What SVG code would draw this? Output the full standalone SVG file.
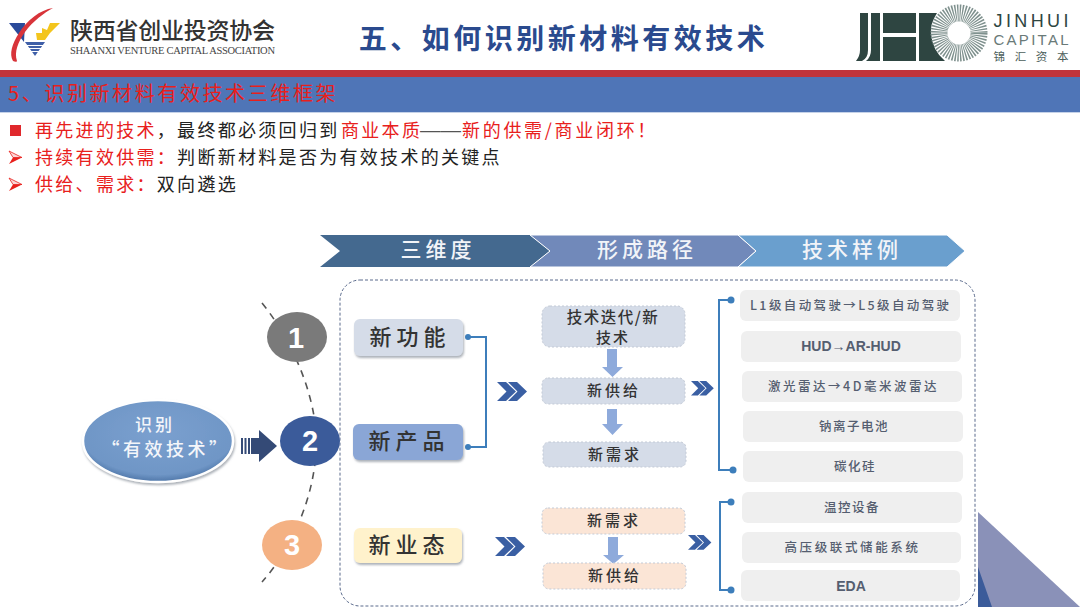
<svg xmlns="http://www.w3.org/2000/svg" width="1080" height="607" viewBox="0 0 1080 607">
<style>
text{font-family:"Noto Sans CJK SC","Noto Sans",sans-serif;text-anchor:middle}
.bl{font-size:18px;letter-spacing:2.300px;text-anchor:start;fill:#222}
.r{fill:#e8201c}
.hd{font-size:21px;font-weight:500;fill:#f2f4f8;letter-spacing:4px}
.big{font-size:22px;font-weight:500;letter-spacing:5px;fill:#333}
.mid{font-size:15px;font-weight:500;letter-spacing:3px;fill:#333}
.ex{font-size:12.5px;font-weight:500;letter-spacing:1.5px;fill:#555e70}
.exb{font-family:"Liberation Sans",Arial,sans-serif;font-size:14px;font-weight:700;fill:#555e70}
.num{font-family:"Liberation Sans",Arial,sans-serif;font-size:29px;font-weight:700;fill:#fff}
.m{stroke:#c3cad6;stroke-width:1;stroke-dasharray:2 2}
.e{fill:#efefef}
.conn{fill:none;stroke:#3d7ebb;stroke-width:2}
.dot{fill:#3d7ebb}
.dc{fill:#3a5fa3}
.da{fill:#8eaadb}
.bu{fill:#fbd5d5;stroke:#e8201c;stroke-width:.8}
.bd{fill:#e8201c}
</style>
<defs>
<filter id="sh" x="-10%" y="-20%" width="125%" height="150%"><feDropShadow dx="1" dy="2" stdDeviation="1.2" flood-color="#6b7280" flood-opacity=".55"/></filter>
<radialGradient id="eg" cx="50%" cy="40%" r="60%"><stop offset="0" stop-color="#7ba0cf"/><stop offset=".85" stop-color="#6f96c6"/><stop offset="1" stop-color="#4f76a8"/></radialGradient>
<g id="dch"><path d="M0 0H9L19 9.500 9 19H0L9.500 9.500Z"/><path d="M11 0H20L30 9.500 20 19H11L20.500 9.500Z"/></g>
<g id="abul"><path class="bu" d="M0 0 13 6.500H4Z"/><path class="bd" d="M0 13 13 6.500H4Z"/></g>
</defs>
<rect width="1080" height="607" fill="#fff"/>

<g id="logo-left">
<path d="M9 23H25L24 42Z" fill="#2a4a9a"/>
<path d="M25 42H45L35 56Z" fill="#3f5fa8"/>
<path d="M27 45.500H43M29 48.500H41M31 51.500H39" stroke="#fff" stroke-width="1" fill="none"/>
<path d="M36 33 37 40H45L50 33 60 23H50L47 30 42 28V33Z" fill="#f3c51d"/>
<path d="M53 8C40 10 27 20 19 33 12 44 9 54 13 61 15 62 17 62 17 61 14 52 18 42 25 32 33 21 44 13 53 8Z" fill="#d8343a"/>
<text x="172.500" y="39" style="font-size:23px;font-weight:500;fill:#333" textLength="205">陕西省创业投资协会</text>
<text x="172.500" y="54" style="font-family:'Liberation Serif',serif;font-size:10.500px;fill:#444" textLength="205">SHAANXI VENTURE CAPITAL ASSOCIATION</text>
</g>
<text id="title" x="563.500" y="49" style="font-size:28px;font-weight:700;letter-spacing:3.500px;fill:#2a4a8e">五、如何识别新材料有效技术</text>
<g id="logo-right">
<path d="M856 13H868V50Q868 58 862 61H856Q860 56 860 50V13ZM871 13H880V61H866Q871 57 871 50Z" fill="#2e4541"/>
<rect x="883" y="13" width="33" height="20" fill="#2e4541"/>
<rect x="883" y="37" width="33" height="24" fill="#2e4541"/>
<path d="M919 13H937Q930 24 931 33 932 50 945 61H919Z" fill="#2e4541"/>
<circle cx="959" cy="33" r="20" fill="none" stroke="#7f918e" stroke-width="17" stroke-dasharray="1.200 1.044"/>
<text x="1031" y="27" style="font-family:'Liberation Sans',sans-serif;font-size:18px;fill:#2e4541" textLength="75">JINHUI</text>
<text x="1031" y="44.500" style="font-family:'Liberation Sans',sans-serif;font-size:15px;fill:#6a7a78" textLength="75">CAPITAL</text>
<text x="1031" y="60.500" style="font-size:11.500px;fill:#4c5e5b" textLength="75">锦汇资本</text>
</g>

<rect x="0" y="70" width="1080" height="7" fill="#c0343c"/>
<rect x="0" y="77" width="1080" height="35" fill="#4f75b7"/>
<rect x="0" y="112" width="1080" height="1" fill="#c5d2e8"/>
<text id="heading" x="8" y="101" style="font-size:20px;letter-spacing:2.600px;text-anchor:start;fill:#e8201c">5、识别新材料有效技术三维框架</text>

<g id="bullets">
<rect x="10" y="125" width="11" height="11" fill="#e0282c"/>
<use href="#abul" transform="translate(9 151)"/>
<use href="#abul" transform="translate(9 178)"/>
<text class="bl" x="35" y="137"><tspan class="r">再先进的技术</tspan>，最终都必须回归到<tspan class="r" x="341">商业本质</tspan><tspan x="420" style="font-family:'Liberation Sans',sans-serif;font-size:20.500px;letter-spacing:0;fill:#555">——</tspan><tspan class="r" x="462" style="letter-spacing:2.700px">新的供需/商业闭环！</tspan></text>
<text class="bl" x="35" y="164"><tspan class="r">持续有效供需：</tspan>判断新材料是否为有效技术的关键点</text>
<text class="bl" x="35" y="191"><tspan class="r">供给、需求：</tspan>双向遴选</text>
</g>

<g id="headers">
<path d="M320 235H530L550 251 530 267H320L340 251Z" fill="#44698f"/>
<path d="M530 235H738L756 251 738 267H530L550 251Z" fill="#7189ba" stroke="#fff"/>
<path d="M738 235H947L965 251 947 267H738L756 251Z" fill="#6a9fce" stroke="#fff"/>
<text class="hd" x="438" y="257">三维度</text>
<text class="hd" x="647" y="257">形成路径</text>
<text class="hd" x="852" y="257">技术样例</text>
</g>

<rect id="frame" x="340" y="280" width="635" height="326" rx="20" fill="none" stroke="#5a6a8c" stroke-width="1" stroke-dasharray="3 2"/>
<path d="M978 512 1080 607H978Z" fill="#8a91b8"/>
<path d="M978 567 992 607H978Z" fill="#3b5b9a"/>

<g id="connectors">
<path d="M262 303C300 350 318 410 316 445 316 490 295 545 262 582" fill="none" stroke="#555" stroke-width="1.600" stroke-dasharray="7 6"/>
<path class="conn" d="M468 337H486V447H468"/>
<circle class="dot" cx="468" cy="337" r="3"/><circle class="dot" cx="468" cy="447" r="3"/>
<path class="conn" d="M731 300H719V470H733"/>
<circle class="dot" cx="731" cy="300" r="3.500"/><circle class="dot" cx="733" cy="470" r="3.500"/>
<path class="conn" d="M731 502H720V590H731"/>
<circle class="dot" cx="731" cy="502" r="3.500"/><circle class="dot" cx="731" cy="590" r="3.500"/>
<use href="#dch" class="dc" transform="translate(497 382)"/>
<use href="#dch" class="dc" transform="translate(495 537)"/>
<use href="#dch" class="dc" transform="translate(691 381) scale(.76)"/>
<use href="#dch" class="dc" transform="translate(688 535) scale(.78)"/>
<path class="da" d="M607 349H617V367H623L612.500 377 602 367H607Z"/>
<path class="da" d="M607 409H617V424H623L612.500 435 602 424H607Z"/>
<path class="da" d="M608 537H618V555H624L613.500 564 603 555H608Z"/>
<g fill="#344a76"><rect x="241" y="438" width="2" height="16"/><rect x="244.500" y="438" width="2" height="16"/><rect x="248" y="438" width="2" height="16"/><path d="M251 438H259V430L277 446 259 462V454H251Z"/></g>
</g>

<g id="source">
<ellipse cx="158" cy="441" rx="75" ry="41" fill="url(#eg)" stroke="#fff" stroke-width="2.500" filter="url(#sh)"/>
<text x="155" y="431" style="font-size:17px;font-weight:500;letter-spacing:3px;fill:#f4f6fa">识别</text>
<text x="166" y="456" style="font-size:18px;font-weight:500;letter-spacing:3.500px;fill:#f4f6fa">“有效技术”</text>
</g>
<g id="n1"><ellipse cx="297" cy="337" rx="30" ry="25" fill="#7a7a7a"/><text class="num" x="296" y="348">1</text></g>
<g id="n2"><ellipse cx="310" cy="441" rx="30" ry="25" fill="#3b5b9a"/><text class="num" x="310" y="451">2</text></g>
<g id="n3"><ellipse cx="292" cy="545" rx="30" ry="25" fill="#f4b183"/><text class="num" x="292" y="555">3</text></g>

<g id="c1"><rect x="354" y="319" width="109" height="37" rx="6" fill="#d5dce8" filter="url(#sh)"/><text class="big" x="410" y="345">新功能</text></g>
<g id="c2"><rect x="353" y="424" width="110" height="36" rx="6" fill="#8aa6d6" filter="url(#sh)"/><text class="big" x="409" y="449">新产品</text></g>
<g id="c3"><rect x="354" y="528" width="108" height="35" rx="6" fill="#fff2cc" filter="url(#sh)"/><text class="big" x="409" y="553">新业态</text></g>

<g id="m1"><rect class="m" x="542" y="306" width="143" height="41" rx="8" fill="#d5dce8"/><text x="613" y="323" class="mid" style="font-size:15.500px;letter-spacing:1.500px">技术迭代/新</text><text x="613" y="343" class="mid" style="letter-spacing:2px">技术</text></g>
<g id="m2"><rect class="m" x="542" y="378" width="143" height="26" rx="6" fill="#d5dce8"/><text class="mid" x="614" y="396">新供给</text></g>
<g id="m3"><rect class="m" x="543" y="442" width="143" height="25" rx="6" fill="#d5dce8"/><text class="mid" x="615" y="460">新需求</text></g>
<g id="m4"><rect class="m" x="542" y="508" width="143" height="26" rx="6" fill="#fbe5d6"/><text class="mid" x="614" y="526">新需求</text></g>
<g id="m5"><rect class="m" x="543" y="563" width="143" height="26" rx="6" fill="#fbe5d6"/><text class="mid" x="615" y="581">新供给</text></g>

<g id="e1"><rect class="e" x="740" y="290" width="220" height="31" rx="6"/><text class="ex" x="850" y="310" style="letter-spacing:.9px" textLength="200">L1级自动驾驶→L5级自动驾驶</text></g>
<g id="e2"><rect class="e" x="741" y="331" width="220" height="31" rx="6"/><text class="exb" x="851" y="351">HUD→AR-HUD</text></g>
<g id="e3"><rect class="e" x="742" y="371" width="220" height="31" rx="6"/><text class="ex" x="853" y="391" textLength="170">激光雷达→4D毫米波雷达</text></g>
<g id="e4"><rect class="e" x="743" y="411" width="220" height="31" rx="6"/><text class="ex" x="854" y="431">钠离子电池</text></g>
<g id="e5"><rect class="e" x="743" y="451" width="220" height="31" rx="6"/><text class="ex" x="855" y="471">碳化硅</text></g>
<g id="e6"><rect class="e" x="742" y="492" width="220" height="31" rx="6"/><text class="ex" x="852" y="512">温控设备</text></g>
<g id="e7"><rect class="e" x="742" y="532" width="219" height="31" rx="6"/><text class="ex" x="852" y="552" textLength="135">高压级联式储能系统</text></g>
<g id="e8"><rect class="e" x="741" y="570" width="219" height="31" rx="6"/><text class="exb" x="851" y="591">EDA</text></g>
</svg>
